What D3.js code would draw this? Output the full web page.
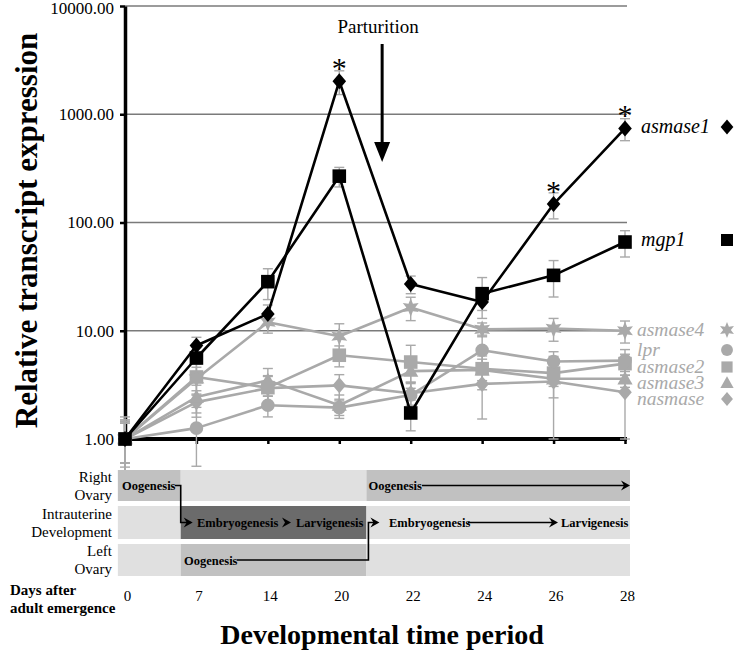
<!DOCTYPE html>
<html>
<head>
<meta charset="utf-8">
<script src="https://cdn.jsdelivr.net/npm/d3@7"></script>
<style>
  html, body { margin: 0; padding: 0; background: #fff; }
  svg { display: block; }
  svg text { font-family: "Liberation Serif", "DejaVu Serif", "Noto Serif", serif; }
</style>
</head>
<body>
<svg id="chart" width="736" height="651"></svg>
<script>
// ---------------- DATA ----------------
const days = ["0", "7", "14", "20", "22", "24", "26", "28"];
const yTicks = [1, 10, 100, 1000, 10000];

const asmase1    = [1, 7.3, 14.3, 2020, 27, 18.4, 148, 740];
const asmase1Err = [0.4, 1.4, 3, 500, 5, 3, 40, 170];
const mgp1       = [1, 5.6, 28.4, 268, 1.74, 22, 32.5, 66];
const mgp1Err    = [0.5, 1.4, 9, 55, 0.55, 9, 12, 18];
const asmase4    = [1, 3.6, 12.0, 8.9, 16.4, 10.3, 10.5, 10.0];
const asmase4Err = [0.6, 1.0, 2.5, 2.7, 4, 1.5, 2.5, 2.3];
const lpr        = [1, 1.26, 2.05, 1.95, 2.55, 6.6, 5.2, 5.3];
const lprErr     = [0.5, 0.7, 0.45, 0.3, 0.8, 2.5, 1.2, 1.4];
const asmase2    = [1, 3.74, 2.98, 5.94, 5.14, 4.46, 4.06, 4.97];
const asmase2Err = [0.4, 1.2, 0.8, 1.3, 2.2, 1.0, 1.0, 1.1];
const asmase3    = [1, 2.44, 3.48, 2.05, 4.24, 4.35, 3.6, 3.6];
const asmase3Err = [0.4, 0.7, 1.0, 0.5, 0.9, 1.5, 1.2, 0.6];
const nasmase    = [1, 2.19, 2.95, 3.13, 2.65, 3.23, 3.4, 2.7];
const nasmaseErr = [0.45, 0.6, 0.9, 0.8, 0.6, 1.7, 2.4, 1.7];

const seriesNames  = ["nasmase", "asmase3", "asmase2", "lpr", "asmase4", "mgp1", "asmase1"];
const seriesShapes = ["diamond", "triangle", "square", "circle", "star", "square", "diamond"];
const seriesTones  = ["gray", "gray", "gray", "gray", "gray", "black", "black"];
const seriesValues = [nasmase, asmase3, asmase2, lpr, asmase4, mgp1, asmase1];
const seriesErrors = [nasmaseErr, asmase3Err, asmase2Err, lprErr, asmase4Err, mgp1Err, asmase1Err];

// legend (right side) order
const legendNames = ["asmase1", "mgp1", "asmase4", "lpr", "asmase2", "asmase3", "nasmase"];

// significance marks on asmase1
const starDays = ["20", "26", "28"];

// bottom panel phases (positions in day-index units)
const rowLabels = [["Right", "Ovary"], ["Intrauterine", "Development"], ["Left", "Ovary"]];
const phaseBreaks = [-0.1, 0.78, 3.38, 7.07];
const phaseShades = [
  ["mid", "light", "mid"],
  ["light", "dark", "light"],
  ["light", "mid", "light"]
];
const parturitionAt = 3.6;

// ---------------- LAYOUT ----------------
const FONT = '"Liberation Serif", "DejaVu Serif", serif';
const svg = d3.select("#chart").attr("font-family", FONT);
const X0 = 125, X1 = 625, Y0 = 439, Y1 = 6;
const GRAY = "#a9a9a9";
const shadeColor = { light: "#e0e0e0", mid: "#c1c1c1", dark: "#6b6b6b" };

const x = d3.scalePoint().domain(days).range([X0, X1]);
const xi = d3.scaleLinear().domain([0, days.length - 1]).range([X0, X1]);
const y = d3.scaleLog().domain([1, 10000]).range([Y0, Y1]);

svg.append("rect").attr("width", 736).attr("height", 651).attr("fill", "#fff");

// gridlines
svg.append("g").selectAll("line").data(yTicks.slice(1)).join("line")
  .attr("x1", X0).attr("x2", X1 + 2)
  .attr("y1", d => y(d)).attr("y2", d => y(d))
  .attr("stroke", "#7a7a7a").attr("stroke-width", 1.3);

// y axis
const yAxis = svg.append("g").attr("transform", `translate(${X0},0)`)
  .call(d3.axisLeft(y).tickValues(yTicks).tickFormat(d3.format(".2f")).tickSize(5).tickSizeOuter(0).tickPadding(6));
yAxis.attr("font-family", FONT);
yAxis.select(".domain").attr("stroke", "#000").attr("stroke-width", 3.5);
yAxis.selectAll(".tick line").attr("stroke", "#000").attr("stroke-width", 2.5);
yAxis.selectAll(".tick text").attr("font-size", 17).attr("fill", "#000")
  .attr("dy", (d) => d === 10000 ? "0.45em" : "0.32em");

// x axis (at y=1)
const xAxis = svg.append("g").attr("transform", `translate(0,${Y0})`)
  .call(d3.axisBottom(x).tickSize(5).tickSizeOuter(0).tickFormat(""));
xAxis.select(".domain").attr("stroke", "#000").attr("stroke-width", 4)
  .attr("d", `M${X0},0H${X1 + 2}`);
xAxis.selectAll(".tick line").attr("stroke", "#000").attr("stroke-width", 2.5);

// y title
svg.append("text")
  .attr("transform", `translate(37,${(Y0 + Y1) / 2 + 8}) rotate(-90)`)
  .attr("text-anchor", "middle").attr("font-size", 31).attr("font-weight", "bold")
  .text("Relative transcript expression");

// symbol generator
function starPath(R, r) {
  let p = "";
  for (let k = 0; k < 12; k++) {
    const a = -Math.PI / 2 + k * Math.PI / 6;
    const rr = k % 2 === 0 ? R : r;
    p += (k === 0 ? "M" : "L") + (rr * Math.cos(a)).toFixed(2) + "," + (rr * Math.sin(a)).toFixed(2);
  }
  return p + "Z";
}
function shapePath(shape, s) {
  switch (shape) {
    case "diamond": return `M0,${-s}L${s * 0.85},0L0,${s}L${-s * 0.85},0Z`;
    case "square": return `M${-s * 0.8},${-s * 0.8}H${s * 0.8}V${s * 0.8}H${-s * 0.8}Z`;
    case "triangle": return `M0,${-s * 0.95}L${s * 0.95},${s * 0.7}L${-s * 0.95},${s * 0.7}Z`;
    case "circle": return d3.symbol(d3.symbolCircle, Math.PI * (s * 0.85) * (s * 0.85))();
    case "star": return starPath(s * 1.15, s * 0.55);
  }
}

// build series
const series = seriesNames.map((n, i) => ({
  name: n, shape: seriesShapes[i], tone: seriesTones[i],
  pts: days.map((d, j) => ({ day: d, v: seriesValues[i][j], e: seriesErrors[i][j] }))
}));

// error bars (all gray)
const eg = svg.append("g");
series.forEach(s => {
  s.pts.forEach(p => {
    const hi = y(p.v + p.e), lo = y(Math.max(p.v - p.e, 0.3));
    const cx = x(p.day);
    eg.append("line").attr("x1", cx).attr("x2", cx).attr("y1", hi).attr("y2", lo)
      .attr("stroke", GRAY).attr("stroke-width", 1.4);
    [hi, lo].forEach(yy => eg.append("line").attr("x1", cx - 5).attr("x2", cx + 5)
      .attr("y1", yy).attr("y2", yy).attr("stroke", GRAY).attr("stroke-width", 1.4));
  });
});

const line = d3.line().x(p => x(p.day)).y(p => y(p.v));
["gray", "black"].forEach(tone => {
  const col = tone === "gray" ? GRAY : "#000";
  series.filter(s => s.tone === tone).forEach(s => {
    svg.append("path").datum(s.pts).attr("d", line)
      .attr("fill", "none").attr("stroke", col).attr("stroke-width", 2.6)
      .attr("stroke-linejoin", "round");
  });
  series.filter(s => s.tone === tone).forEach(s => {
    svg.append("g").selectAll("path").data(s.pts).join("path")
      .attr("transform", p => `translate(${x(p.day)},${y(p.v)})`)
      .attr("d", shapePath(s.shape, s.shape === "square" ? 8.5 : 8))
      .attr("fill", col);
  });
});

// significance asterisks
const a1 = series.find(s => s.name === "asmase1");
svg.append("g").selectAll("text").data(a1.pts.filter(p => starDays.includes(p.day))).join("text")
  .attr("x", p => x(p.day)).attr("y", p => y(p.v) - 3)
  .attr("text-anchor", "middle").attr("font-size", 30).text("*");

// parturition
const px = xi(parturitionAt);
svg.append("text").attr("x", px - 4).attr("y", 33).attr("text-anchor", "middle")
  .attr("font-size", 19).text("Parturition");
svg.append("line").attr("x1", px).attr("x2", px).attr("y1", 44).attr("y2", 146)
  .attr("stroke", "#000").attr("stroke-width", 3);
svg.append("path").attr("d", `M${px - 8},${142}L${px + 8},${142}L${px},${162}Z`).attr("fill", "#000");

// right-side legend
const legY = { asmase1: 127, mgp1: 240, asmase4: 330, lpr: 350, asmase2: 367, asmase3: 383, nasmase: 399 };
legendNames.forEach(n => {
  const s = series.find(t => t.name === n);
  const col = s.tone === "gray" ? GRAY : "#000";
  svg.append("text").attr("x", s.tone === "gray" ? 637 : 641).attr("y", legY[n] + 6)
    .attr("font-size", s.tone === "gray" ? 19.5 : 20).attr("font-style", "italic").attr("fill", col).text(n);
  svg.append("path").attr("transform", `translate(727,${legY[n]})`)
    .attr("d", shapePath(s.shape, s.tone === "gray" ? 7 : 7.5)).attr("fill", col);
});

// ---------------- bottom panel ----------------
const rowY = [[470, 501], [506, 539], [544, 576]];
const panel = svg.append("g");
rowY.forEach((r, ri) => {
  for (let k = 0; k < 3; k++) {
    panel.append("rect").attr("x", xi(phaseBreaks[k])).attr("y", r[0])
      .attr("width", xi(phaseBreaks[k + 1]) - xi(phaseBreaks[k])).attr("height", r[1] - r[0])
      .attr("fill", shadeColor[phaseShades[ri][k]]);
  }
  const mid = (r[0] + r[1]) / 2;
  panel.append("text").attr("x", 112).attr("y", mid - 4).attr("text-anchor", "end")
    .attr("font-size", 15).text(rowLabels[ri][0]);
  panel.append("text").attr("x", 112).attr("y", mid + 14).attr("text-anchor", "end")
    .attr("font-size", 15).text(rowLabels[ri][1]);
});
const mid = rowY.map(r => (r[0] + r[1]) / 2);
const bfs = 12.5;
function label(t, xx, yy) {
  panel.append("text").attr("x", xx).attr("y", yy + 4.5).attr("font-size", bfs)
    .attr("font-weight", "bold").text(t);
}
function arrowHead(xx, yy) {
  panel.append("path").attr("d", `M${xx - 9},${yy - 5}L${xx},${yy}L${xx - 9},${yy + 5}L${xx - 6},${yy}Z`).attr("fill", "#000");
}
function seg(pts) {
  panel.append("path").attr("d", d3.line()(pts)).attr("fill", "none").attr("stroke", "#000").attr("stroke-width", 1.6);
}
const b1 = xi(phaseBreaks[1]), b2 = xi(phaseBreaks[2]);
label("Oogenesis", 122, mid[0]);
seg([[175, mid[0]], [b1, mid[0]], [b1, mid[1]], [b1 + 8, mid[1]]]);
arrowHead(b1 + 12, mid[1]);
label("Embryogenesis", 197, mid[1]);
arrowHead(291, mid[1]);
label("Larvigenesis", 296, mid[1]);
label("Oogenesis", 184, mid[2]);
seg([[237, mid[2]], [b2 + 2, mid[2]], [b2 + 2, mid[1]], [b2 + 8, mid[1]]]);
arrowHead(b2 + 13, mid[1]);
label("Embryogenesis", 389, mid[1]);
seg([[468, mid[1]], [553, mid[1]]]);
arrowHead(558, mid[1]);
label("Larvigenesis", 561, mid[1]);
label("Oogenesis", b2 + 2, mid[0]);
seg([[422, mid[0]], [625, mid[0]]]);
arrowHead(630, mid[0]);

// days axis labels
const dAxis = svg.append("g").attr("transform", "translate(0,588)")
  .call(d3.axisBottom(x).tickSize(0).tickPadding(2));
dAxis.attr("font-family", FONT);
dAxis.select(".domain").remove();
dAxis.selectAll(".tick text").attr("font-size", 15).attr("fill", "#000").attr("dx", 2);
svg.append("text").attr("x", 10).attr("y", 595).attr("font-size", 15).attr("font-weight", "bold").text("Days after");
svg.append("text").attr("x", 10).attr("y", 613).attr("font-size", 15).attr("font-weight", "bold").text("adult emergence");

svg.append("text").attr("x", 382).attr("y", 644).attr("text-anchor", "middle")
  .attr("font-size", 28).attr("font-weight", "bold").text("Developmental time period");
</script>
</body>
</html>
